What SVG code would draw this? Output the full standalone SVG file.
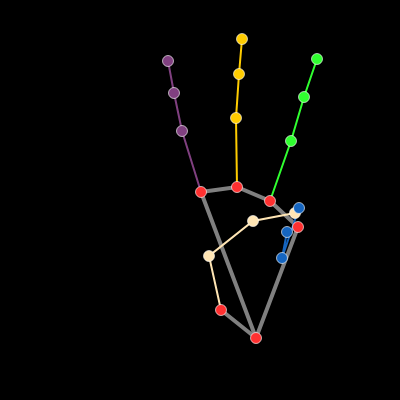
<svg xmlns="http://www.w3.org/2000/svg" width="400" height="400" viewBox="0 0 400 400">
<style>
.palm{stroke:#808080;stroke-width:4;fill:none;stroke-linecap:round}
.f{stroke-width:2;fill:none;stroke-linecap:round}
.thumb{stroke:#ffe5b4}.index{stroke:#804080}.middle{stroke:#ffcc00}.ring{stroke:#30ff30}.pinky{stroke:#1565c0}
circle{stroke:#ffffff;stroke-width:0.8;stroke-opacity:0.8}
.r{fill:#ff3030}.t{fill:#ffe5b4}.i{fill:#804080}.m{fill:#ffcc00}.g{fill:#30ff30}.b{fill:#1565c0}
</style>
<rect width="400" height="400" fill="#000"/>
<g id="connectors">
<path class="palm" d="M256,338L221,310M256,338L201,192M201,192L237,187L270,201L298,227L256,338"/>
<path class="f thumb" d="M221,310L209,256L253,221L295,213"/>
<path class="f index" d="M201,192L182,131L174,93L168,61"/>
<path class="f middle" d="M237,187L236,118L239,74L242,39"/>
<path class="f ring" d="M270,201L291,141L304,97L317,59"/>
<path class="f pinky" d="M298,227L287,232L282,258L299,208"/>
</g>
<g id="n0"><circle class="r" cx="256" cy="338" r="5.5"/></g>
<g id="n1"><circle class="r" cx="221" cy="310" r="5.5"/></g>
<g id="n2"><circle class="t" cx="209" cy="256" r="5.5"/></g>
<g id="n3"><circle class="t" cx="253" cy="221" r="5.5"/></g>
<g id="n4"><circle class="t" cx="295" cy="213" r="5.5"/></g>
<g id="n5"><circle class="r" cx="201" cy="192" r="5.5"/></g>
<g id="n6"><circle class="i" cx="182" cy="131" r="5.5"/></g>
<g id="n7"><circle class="i" cx="174" cy="93" r="5.5"/></g>
<g id="n8"><circle class="i" cx="168" cy="61" r="5.5"/></g>
<g id="n9"><circle class="r" cx="237" cy="187" r="5.5"/></g>
<g id="n10"><circle class="m" cx="236" cy="118" r="5.5"/></g>
<g id="n11"><circle class="m" cx="239" cy="74" r="5.5"/></g>
<g id="n12"><circle class="m" cx="242" cy="39" r="5.5"/></g>
<g id="n13"><circle class="r" cx="270" cy="201" r="5.5"/></g>
<g id="n14"><circle class="g" cx="291" cy="141" r="5.5"/></g>
<g id="n15"><circle class="g" cx="304" cy="97" r="5.5"/></g>
<g id="n16"><circle class="g" cx="317" cy="59" r="5.5"/></g>
<g id="n17"><circle class="r" cx="298" cy="227" r="5.5"/></g>
<g id="n18"><circle class="b" cx="287" cy="232" r="5.5"/></g>
<g id="n19"><circle class="b" cx="282" cy="258" r="5.5"/></g>
<g id="n20"><circle class="b" cx="299" cy="208" r="5.5"/></g>
</svg>
